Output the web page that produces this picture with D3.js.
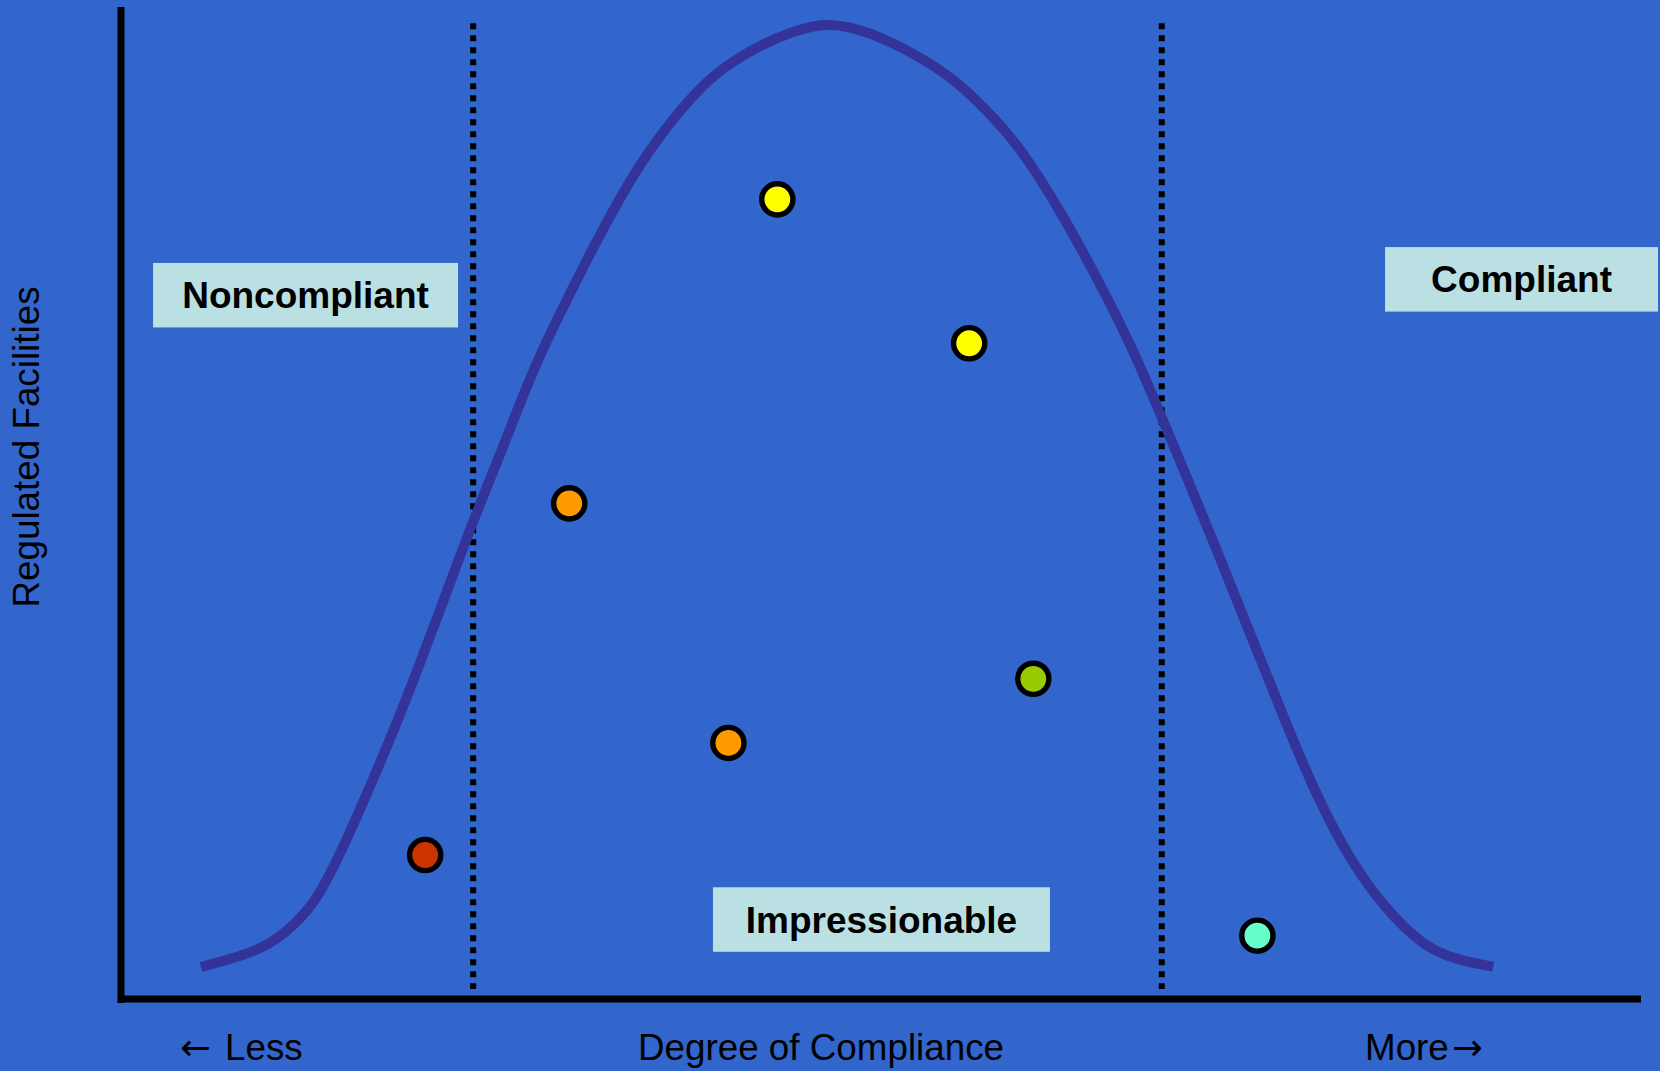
<!DOCTYPE html>
<html lang="en">
<head>
  <meta charset="UTF-8">
  <title>Degree of Compliance</title>
  <style>
    body {
      margin: 0;
      background: #3366cc;
      font-family: 'Liberation Sans', Arial, sans-serif;
    }
    svg {
      display: block;
    }
  </style>
</head>
<body>

<svg></svg>

<script src="https://d3js.org/d3.v7.min.js"></script>
<script>
// distribution curve (x = degree of compliance, y = facilities)
const curveX = [5.26, 9.47, 11.55, 12.96, 14.85, 16.38, 18.14, 19.67, 21.32, 23.18, 25.15, 26.84,
  28.22, 31.07, 33.70, 35.90, 38.09, 40.28, 43.14, 46.43, 49.49, 52.35, 54.76, 56.95, 59.14,
  61.78, 64.41, 66.60, 68.36, 70.11, 72.09, 74.28, 76.47, 78.66, 80.86, 83.05, 85.68, 87.88, 90.28];
const curveY = [3.23, 4.94, 7.70, 10.09, 16.04, 21.42, 27.82, 33.87, 40.60, 48.34, 55.73, 62.46,
  67.17, 75.91, 83.32, 88.02, 92.06, 94.75, 97.10, 98.80, 97.45, 95.26, 92.91, 89.71, 86.00,
  79.62, 72.22, 65.49, 59.10, 52.70, 45.31, 36.90, 28.49, 20.41, 14.03, 9.31, 5.28, 3.94, 3.26];

// individual facilities
const pointX = [20.01, 29.49, 39.96, 43.18, 55.80, 60.02, 74.76];
const pointY = [14.53, 50.01, 25.84, 80.69, 66.17, 32.31, 6.39];
const pointLevel = [1, 2, 2, 3, 3, 4, 5];

// zone borders
const thresholds = [23.17, 68.47];

const zoneNames = ["Noncompliant", "Impressionable", "Compliant"];
const zoneX = [12.14, 50.03, 92.14];
const zoneY = [71.02, 8.02, 72.62];

const width = 1660;
const height = 1071;

const svg = d3.select("svg")
  .attr("width", width)
  .attr("height", height);

svg.append("rect")
  .attr("width", width)
  .attr("height", height)
  .attr("fill", "#3366cc");

const x = d3.scaleLinear().domain([0, 100]).range([121, 1641]);
const y = d3.scaleLinear().domain([0, 100]).range([999, 8]);

const levelColor = d3.scaleOrdinal()
  .domain([1, 2, 3, 4, 5])
  .range(["#cc3300", "#ff9900", "#ffff00", "#99cc00", "#66ffcc"]);

// dotted zone borders
svg.append("g")
  .selectAll("line")
  .data(thresholds)
  .join("line")
  .attr("x1", d => x(d))
  .attr("x2", d => x(d))
  .attr("y1", y(98.45))
  .attr("y2", y(1.0))
  .attr("stroke", "#000")
  .attr("stroke-width", 6)
  .attr("stroke-dasharray", "6,6");

// bell curve (basis spline smooths out reading errors)
const line = d3.line()
  .x(d => x(d[0]))
  .y(d => y(d[1]))
  .curve(d3.curveBasis);

svg.append("path")
  .datum(d3.zip(curveX, curveY))
  .attr("d", line)
  .attr("fill", "none")
  .attr("stroke", "#333399")
  .attr("stroke-width", 10);

// axes
svg.append("line")
  .attr("x1", x(0)).attr("x2", x(0))
  .attr("y1", 7).attr("y2", y(0) + 4)
  .attr("stroke", "#000")
  .attr("stroke-width", 7);

svg.append("line")
  .attr("x1", x(0)).attr("x2", x(100))
  .attr("y1", y(0)).attr("y2", y(0))
  .attr("stroke", "#000")
  .attr("stroke-width", 7);

// facilities
svg.append("g")
  .selectAll("circle")
  .data(d3.zip(pointX, pointY, pointLevel))
  .join("circle")
  .attr("cx", d => x(d[0]))
  .attr("cy", d => y(d[1]))
  .attr("r", 15.6)
  .attr("fill", d => levelColor(d[2]))
  .attr("stroke", "#000")
  .attr("stroke-width", 5.4);

// zone labels
const boxW = [305, 337, 273];
const boxH = 64.5;
const zone = svg.append("g")
  .selectAll("g")
  .data(zoneNames)
  .join("g")
  .attr("transform", (d, i) => `translate(${x(zoneX[i])},${y(zoneY[i])})`);

zone.append("rect")
  .attr("x", (d, i) => -boxW[i] / 2)
  .attr("y", -boxH / 2)
  .attr("width", (d, i) => boxW[i])
  .attr("height", boxH)
  .attr("fill", "#bbe0e3");

zone.append("text")
  .attr("text-anchor", "middle")
  .attr("y", 13)
  .attr("font-size", 37)
  .attr("font-weight", "bold")
  .attr("fill", "#000")
  .text(d => d);

// axis titles
svg.append("text")
  .attr("transform", "translate(39,447) rotate(-90)")
  .attr("text-anchor", "middle")
  .attr("font-size", 36.8)
  .attr("fill", "#000")
  .text("Regulated Facilities");

const bottom = svg.append("g")
  .attr("font-size", 36.8)
  .attr("fill", "#000");

bottom.append("text")
  .attr("x", 180)
  .attr("y", 1060)
  .attr("font-family", "'DejaVu Sans', sans-serif")
  .text("\u2190");

bottom.append("text")
  .attr("x", 225)
  .attr("y", 1060)
  .text("Less");

bottom.append("text")
  .attr("x", 821)
  .attr("y", 1060)
  .attr("text-anchor", "middle")
  .text("Degree of Compliance");

bottom.append("text")
  .attr("x", 1365)
  .attr("y", 1060)
  .text("More");

bottom.append("text")
  .attr("x", 1452)
  .attr("y", 1060)
  .attr("font-family", "'DejaVu Sans', sans-serif")
  .text("\u2192");
</script>

</body>
</html>
